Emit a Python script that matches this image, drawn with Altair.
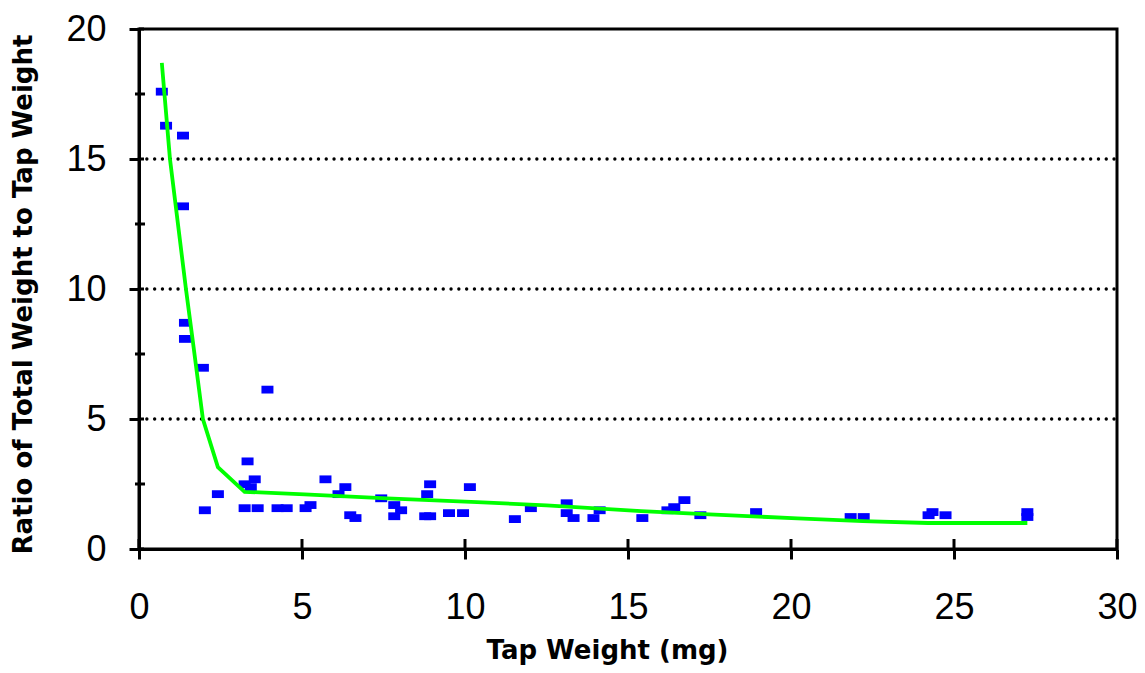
import altair as alt
import pandas as pd

# ---- data ----
tap_weight = [0.70, 0.83, 1.35, 1.35, 1.41, 1.41, 1.96, 3.94, 2.02, 2.42,
              3.33, 3.55, 3.24, 3.43, 3.24, 3.64, 4.25, 4.53, 5.11, 5.26,
              5.72, 6.12, 6.33, 6.48, 6.64, 7.43, 7.83, 7.83, 8.04, 8.78,
              8.93, 8.84, 8.93, 9.51, 9.94, 10.15, 11.53, 12.02, 13.12, 13.12,
              13.33, 13.94, 14.13, 15.44, 16.21, 16.42, 16.73, 17.22, 18.93, 21.83,
              22.23, 24.22, 24.34, 24.74, 27.25, 27.25]
ratio = [17.59, 16.28, 15.90, 13.18, 8.70, 8.08, 6.97, 6.13, 1.49, 2.11,
         3.37, 2.68, 2.49, 2.38, 1.57, 1.57, 1.57, 1.57, 1.57, 1.69,
         2.68, 2.11, 2.38, 1.30, 1.19, 1.95, 1.69, 1.26, 1.49, 1.26,
         1.26, 2.11, 2.49, 1.38, 1.38, 2.38, 1.15, 1.57, 1.76, 1.38,
         1.19, 1.19, 1.49, 1.19, 1.49, 1.61, 1.88, 1.30, 1.42, 1.23,
         1.23, 1.30, 1.42, 1.30, 1.42, 1.23]

trend_x = [0.70, 0.95, 1.44, 1.65, 1.96, 2.42, 3.24, 5.08, 7.61, 10.37,
           12.5, 15.4, 17.5, 20.2, 22.2, 24.2, 27.25]
trend_y = [18.7, 15.0, 10.0, 8.0, 5.0, 3.15, 2.2, 2.1, 1.95, 1.8,
           1.68, 1.46, 1.33, 1.18, 1.07, 1.0, 1.0]

x_ticks = [0, 5, 10, 15, 20, 25, 30]
y_major = [0, 5, 10, 15, 20]
y_minor = [2.5, 7.5, 12.5, 17.5]
grid_y = [5, 10, 15]

W, H = 978, 520
FONT = "Liberation Sans"
TFONT = "DejaVu Sans"

xscale = alt.Scale(domain=[0, 30], nice=False, zero=False)
yscale = alt.Scale(domain=[0, 20], nice=False)

pts = pd.DataFrame({"x": tap_weight, "y": ratio})
trend = pd.DataFrame({"x": trend_x, "y": trend_y})

xaxis = alt.Axis(values=x_ticks, title="Tap Weight (mg)", grid=False,
                 tickSize=10, tickWidth=3, tickColor="black",
                 domainColor="black", domainWidth=3,
                 labelFontSize=36, labelFont=FONT, labelColor="black",
                 labelPadding=31, labelFlush=False, labelOverlap=False,
                 titleFont=TFONT, titleFontSize=26, titleFontWeight="bold",
                 titleColor="black", titlePadding=12, titleX=468)
yaxis = alt.Axis(values=y_major, title="Ratio of Total Weight to Tap Weight", grid=False,
                 tickSize=10, tickWidth=3, tickColor="black",
                 domainColor="black", domainWidth=3,
                 labelFontSize=36, labelFont=FONT, labelColor="black",
                 labelPadding=23, labelFlush=False, labelOverlap=False,
                 titleFont=TFONT, titleFontSize=26, titleFontWeight="bold",
                 titleColor="black", titlePadding=29, titleY=265)


def X(field="x"):
    return alt.X(f"{field}:Q", scale=xscale, axis=xaxis)


def Y(field="y"):
    return alt.Y(f"{field}:Q", scale=yscale, axis=yaxis)


grid = alt.Chart(pd.DataFrame({"y": grid_y})).mark_rule(
    color="black", strokeWidth=3.3, strokeDash=[0.1, 7.7], strokeCap="round"
).encode(y=Y(), x=alt.value(0), x2=alt.value(W))

minor = alt.Chart(pd.DataFrame({"y": y_minor})).mark_rule(
    color="black", strokeWidth=3
).encode(y=Y(), x=alt.value(-4), x2=alt.value(6))

major_in = alt.Chart(pd.DataFrame({"y": y_major})).mark_rule(
    color="black", strokeWidth=3
).encode(y=Y(), x=alt.value(0), x2=alt.value(5))

x_in = alt.Chart(pd.DataFrame({"x": x_ticks})).mark_rule(
    color="black", strokeWidth=3
).encode(x=X(), y=alt.value(H), y2=alt.value(H - 10))

points = alt.Chart(pts).mark_point(
    shape="M-1,-0.65L1,-0.65L1,0.65L-1,0.65Z", filled=True, size=144,
    color="#0000FF", opacity=1
).encode(x=X(), y=Y())

line = alt.Chart(trend).mark_line(color="#00FF00", strokeWidth=3.8).encode(
    x=X(), y=Y(), order="x:Q")

chart = alt.layer(grid, minor, major_in, x_in, points, line).properties(
    width=W, height=H,
    autosize=alt.AutoSizeParams(type="none"),
    padding={"left": 131, "top": 21, "right": 20, "bottom": 116},
    background="white"
).configure_view(stroke="black", strokeWidth=3)

chart.save("out.html", embed_options={"renderer": "svg", "actions": False})
